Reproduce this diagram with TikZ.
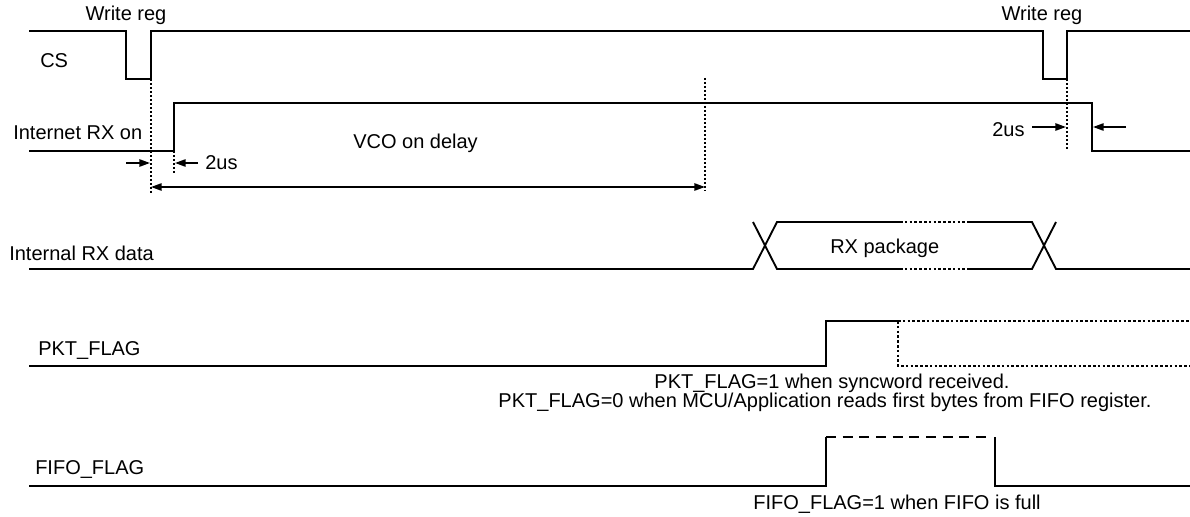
\documentclass[tikz,border=0pt]{standalone}
\usepackage{fontspec}
\setmainfont{Liberation Sans}
\usetikzlibrary{arrows.meta}
\begin{document}
\begin{tikzpicture}[x=0.75pt,y=-0.75pt,
  wave/.style={line width=1.4pt, line join=miter},
  guide/.style={line width=0.9pt, dash pattern=on 1.6pt off 1.4pt},
  dotw/.style={line width=1.1pt, dash pattern=on 2pt off 1.6pt},
  dashw/.style={line width=1.3pt, dash pattern=on 7.5pt off 5pt},
  dim/.style={line width=1.2pt, -{Triangle[length=8pt,width=5.5pt]}},
  dimboth/.style={line width=1.2pt, {Triangle[length=8pt,width=5.5pt]}-{Triangle[length=8pt,width=5.5pt]}},
  lbl/.style={inner sep=0pt, font=\fontsize{15pt}{18pt}\selectfont, anchor=base west},
  lblc/.style={lbl, anchor=base}]
\useasboundingbox (0,0) rectangle (1190,517);

% ---- key coordinates
\coordinate (csrise1) at (151,79);
\coordinate (csrise2) at (1067,79);
\coordinate (rxrise) at (174,151);
\coordinate (rxfall) at (1092,127);
\coordinate (vcoend) at (705,78);

% ---- CS
\draw[wave] (29,31) -- (126,31) -- (126,79) -- (csrise1) -- (151,31) -- (1043,31) -- (1043,79) -- (csrise2) -- (1067,31) -- (1190,31);
\node[lbl] (cs) at (40,68) {CS};
\node[lblc] (wr1) at (126,21) {Write reg};
\node[lblc] (wr2) at (1042,21) {Write reg};

% ---- Internet RX on
\draw[wave] (29,151) -- (rxrise) -- (174,103) -- (1092,103) -- (1092,151) -- (1190,151);
\node[lbl] (rxon) at (13,140) {Internet RX on};

% guides
\draw[guide] (csrise1) -- (151,193);
\draw[guide] (rxrise) -- (174,173);
\draw[guide] (vcoend) -- (705,191);
\draw[guide] (csrise2) -- (1067,149);

% dimension arrows
\coordinate (a1s) at (126,163);
\coordinate (a1e) at (150,163);
\coordinate (a2s) at (198,163);
\coordinate (a2e) at (175,163);
\draw[dim] (a1s) -- (a1e);
\draw[dim] (a2s) -- (a2e);
\node[lbl] (us1) at (205,170) {2us};

\coordinate (v1) at (151,187);
\coordinate (v2) at (705,187);
\draw[dimboth] (v1) -- (v2);
\node[lbl] (vco) at (353,148) {VCO on delay};

\coordinate (b1s) at (1032,127);
\coordinate (b1e) at (1066,127);
\coordinate (b2s) at (1126,127);
\coordinate (b2e) at (1093,127);
\draw[dim] (b1s) -- (b1e);
\draw[dim] (b2s) -- (b2e);
\node[lbl] (us2) at (992,137) {2us};

% ---- Internal RX data
\draw[wave] (29,269) -- (753,269) -- (777,222) -- (900,222);
\draw[wave] (753,222) -- (777,269) -- (900,269);
\draw[dotw] (900,222) -- (970,222);
\draw[dotw] (900,269) -- (970,269);
\draw[wave] (970,222) -- (1032,222) -- (1056,269) -- (1190,269);
\draw[wave] (970,269) -- (1032,269) -- (1056,222);
\node[lbl] (rxdata) at (9,260) {Internal RX data};
\node[lbl] (rxpkg) at (830,253) {RX package};

% ---- PKT_FLAG
\draw[wave] (29,366) -- (826,366) -- (826,321) -- (898,321);
\draw[dotw] (898,321) -- (1190,321);
\draw[dotw] (898,321) -- (898,366) -- (1190,366);
\node[lbl] (pkt) at (38,355) {PKT\_FLAG};
\node[lblc] (pkt1) at (832,388) {PKT\_FLAG=1 when syncword received.};
\node[lblc] (pkt0) at (825,407) {PKT\_FLAG=0 when MCU/Application reads first bytes from FIFO register.};

% ---- FIFO_FLAG
\draw[wave] (29,486) -- (826,486) -- (826,437);
\draw[dashw] (826,437) -- (989,437);
\draw[wave] (995,437) -- (995,486) -- (1190,486);
\node[lbl] (fifo) at (35,474) {FIFO\_FLAG};
\node[lblc] (fifo1) at (897,509) {FIFO\_FLAG=1 when FIFO is full};
\end{tikzpicture}
\end{document}
